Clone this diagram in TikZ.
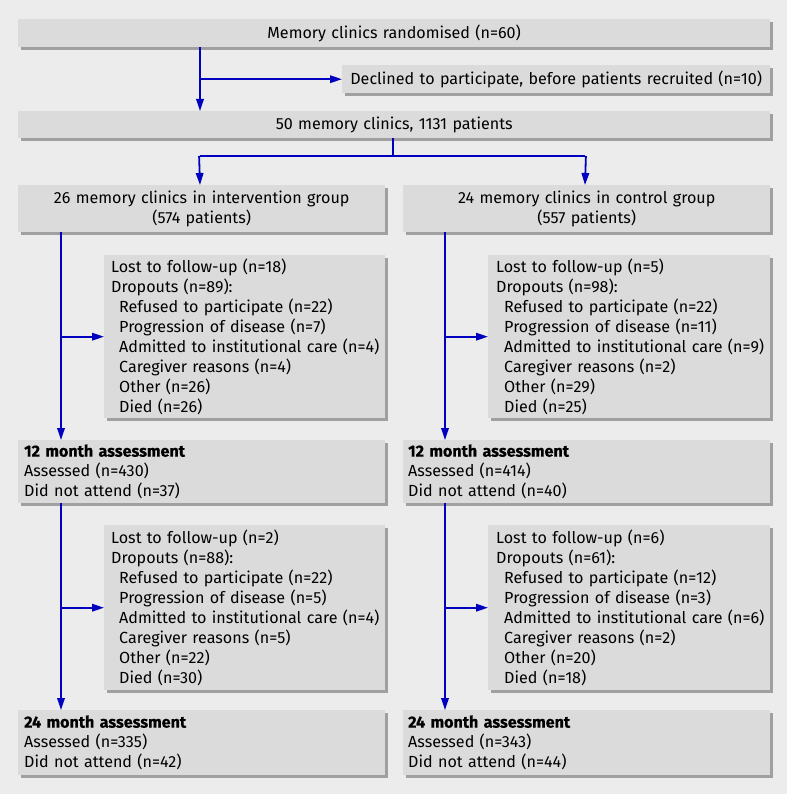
\documentclass[tikz,border=0pt]{standalone}
\usepackage{fontspec}
\setmainfont{Fira Sans}
\usetikzlibrary{arrows.meta,shadows}
\definecolor{bg}{RGB}{236,236,236}
\definecolor{boxfill}{RGB}{219,219,219}
\definecolor{shade}{RGB}{160,160,160}
\definecolor{arrowblue}{RGB}{0,0,190}
\newcommand{\hdr}[1]{{\bfseries\addfontfeature{FakeBold=0.6}#1}}
\newcommand{\sub}[1]{\hspace*{8pt}\mbox{#1}}
\begin{document}
\begin{tikzpicture}[x=1pt,y=-1pt,
  box/.style={rectangle, fill=boxfill, draw=none, anchor=north west, inner ysep=0pt,
    drop shadow={shadow xshift=3pt,shadow yshift=-3pt,fill=shade,opacity=1},
    font=\fontsize{16.1}{20}\selectfont},
  cbox/.style={box, inner xsep=0pt, align=center},
  lbox/.style={box, align=left},
  conn/.style={draw=arrowblue, line width=1.8pt},
  arr/.style={conn, -{Triangle[length=12pt,width=7.5pt]}}]
\fill[bg] (0,0) rectangle (787,794);
\useasboundingbox (0,0) rectangle (787,794);

\node[cbox, text width=752pt, minimum height=28pt] (rand) at (18,19) {Memory clinics randomised (n=60)};
\node[cbox, text width=428pt, minimum height=28pt] (decl) at (342,65) {Declined to participate, before patients recruited (n=10)};
\node[cbox, text width=752pt, minimum height=27pt] (fifty) at (18,111) {50 memory clinics, 1131 patients};
\node[cbox, text width=367pt, minimum height=47pt] (gL) at (18,185) {26 memory clinics in intervention group\\(574 patients)};
\node[cbox, text width=367pt, minimum height=47pt] (gR) at (403,185) {24 memory clinics in control group\\(557 patients)};

\node[lbox, inner xsep=7pt, text width=267pt, minimum height=163pt] (dL1) at (104,255) {Lost to follow-up (n=18)\\Dropouts (n=89):\\\sub{Refused to participate (n=22)}\\\sub{Progression of disease (n=7)}\\\sub{Admitted to institutional care (n=4)}\\\sub{Caregiver reasons (n=4)}\\\sub{Other (n=26)}\\\sub{Died (n=26)}};
\node[lbox, inner xsep=8pt, text width=266pt, minimum height=163pt] (dR1) at (488,255) {Lost to follow-up (n=5)\\Dropouts (n=98):\\\sub{Refused to participate (n=22)}\\\sub{Progression of disease (n=11)}\\\sub{Admitted to institutional care (n=9)}\\\sub{Caregiver reasons (n=2)}\\\sub{Other (n=29)}\\\sub{Died (n=25)}};

\node[lbox, inner xsep=6pt, text width=355pt, minimum height=63pt] (mL1) at (18,440) {\hdr{12 month assessment}\\Assessed (n=430)\\Did not attend (n=37)};
\node[lbox, inner xsep=5pt, text width=357pt, minimum height=63pt] (mR1) at (403,440) {\hdr{12 month assessment}\\Assessed (n=414)\\Did not attend (n=40)};

\node[lbox, inner xsep=7pt, text width=267pt, minimum height=165pt] (dL2) at (104,525) {Lost to follow-up (n=2)\\Dropouts (n=88):\\\sub{Refused to participate (n=22)}\\\sub{Progression of disease (n=5)}\\\sub{Admitted to institutional care (n=4)}\\\sub{Caregiver reasons (n=5)}\\\sub{Other (n=22)}\\\sub{Died (n=30)}};
\node[lbox, inner xsep=8pt, text width=266pt, minimum height=165pt] (dR2) at (488,525) {Lost to follow-up (n=6)\\Dropouts (n=61):\\\sub{Refused to participate (n=12)}\\\sub{Progression of disease (n=3)}\\\sub{Admitted to institutional care (n=6)}\\\sub{Caregiver reasons (n=2)}\\\sub{Other (n=20)}\\\sub{Died (n=18)}};

\node[lbox, inner xsep=6pt, text width=355pt, minimum height=65pt] (mL2) at (18,710) {\hdr{24 month assessment}\\Assessed (n=335)\\Did not attend (n=42)};
\node[lbox, inner xsep=5pt, text width=357pt, minimum height=65pt] (mR2) at (403,710) {\hdr{24 month assessment}\\Assessed (n=343)\\Did not attend (n=44)};

% connectors
\coordinate (xa) at (200,0);
\coordinate (xs) at (393,0);
\coordinate (xl) at (61,0);
\coordinate (xr) at (445,0);
\coordinate (split) at (393,156);
\coordinate (sL) at (200,156);
\coordinate (sR) at (585,156);

\draw[arr] (rand.south -| xa) -- (fifty.north -| xa);
\draw[arr] (xa |- decl.west) -- (decl.west);

\draw[conn] (fifty.south -| xs) -- (split);
\draw[conn] (sL) -- (sR);
\draw[arr] ([xshift=-0.9pt]sL) -- (gL.north -| sL);
\draw[arr] ([xshift=0.9pt]sR) -- (gR.north -| sR);

\draw[arr] (gL.south -| xl) -- (mL1.north -| xl);
\draw[arr] (xl |- dL1.west) -- (dL1.west);
\draw[arr] (gR.south -| xr) -- (mR1.north -| xr);
\draw[arr] (xr |- dR1.west) -- (dR1.west);

\draw[arr] (mL1.south -| xl) -- (mL2.north -| xl);
\draw[arr] (xl |- dL2.west) -- (dL2.west);
\draw[arr] (mR1.south -| xr) -- (mR2.north -| xr);
\draw[arr] (xr |- dR2.west) -- (dR2.west);
\end{tikzpicture}
\end{document}
